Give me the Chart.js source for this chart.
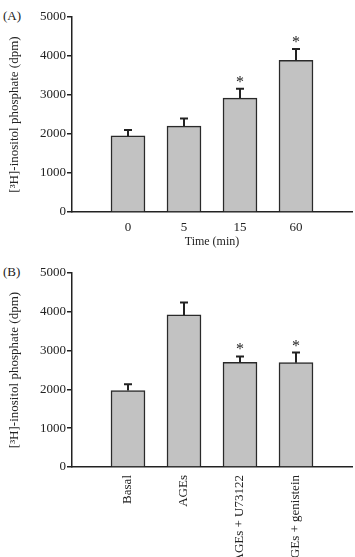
<!DOCTYPE html>
<html>
<head>
<meta charset="utf-8">
<script src="https://cdn.jsdelivr.net/npm/chart.js@4.4.0/dist/chart.umd.min.js"></script>
<style>
  html, body { margin: 0; padding: 0; background: #fff; overflow: hidden; }
  body { width: 355px; height: 557px; position: relative; }
  canvas { position: absolute; left: 0; }
  .panel { position: absolute; left: 3px; font: 13px "Liberation Serif", serif; color: #222; line-height: 16px; }
</style>
</head>
<body>
<div class="panel" style="top:8px">(A)</div>
<div class="panel" style="top:264px">(B)</div>
<canvas id="timeChart" width="355" height="250" style="top:0"></canvas>
<canvas id="treatChart" width="355" height="307" style="top:250px"></canvas>
<script>
// Panel A: time course
const timeLabels = ['0', '5', '15', '60'];
const timeMeans = [1950, 2200, 2920, 3890];
const timeErr = [150, 200, 240, 290];
const timeSig = [false, false, true, true];

// Panel B: inhibitors
const treatLabels = ['Basal', 'AGEs', 'AGEs + U73122', 'AGEs + genistein'];
const treatMeans = [1970, 3920, 2700, 2690];
const treatErr = [160, 320, 150, 260];
const treatSig = [false, false, true, true];

const yTicks = [0, 1000, 2000, 3000, 4000, 5000];

const ink = '#222';
const serif = '"Liberation Serif", "Times New Roman", serif';

// error bars (upper only) and asterisks
const errorPlugin = {
  id: 'errorBars',
  afterDatasetsDraw(chart, args, opts) {
    const { ctx, scales: { x, y } } = chart;
    ctx.save();
    ctx.strokeStyle = ink;
    ctx.fillStyle = ink;
    ctx.lineWidth = 2;
    opts.means.forEach((m, i) => {
      const px = x.getPixelForValue(i + 1);
      const top = y.getPixelForValue(m);
      const cap = y.getPixelForValue(m + opts.errors[i]);
      ctx.beginPath();
      ctx.moveTo(px, top);
      ctx.lineTo(px, cap);
      ctx.moveTo(px - 4, cap);
      ctx.lineTo(px + 4, cap);
      ctx.stroke();
      if (opts.sig[i]) {
        ctx.font = '16px ' + serif;
        ctx.textAlign = 'center';
        ctx.textBaseline = 'alphabetic';
        ctx.fillText('*', px, cap - 2);
      }
    });
    ctx.restore();
  }
};

function makeChart(id, labels, means, errors, sig, opt) {
  const padded = ['', ...labels, ''];
  const values = [null, ...means, null];
  return new Chart(document.getElementById(id), {
    type: 'bar',
    data: {
      labels: padded,
      datasets: [{
        data: values,
        backgroundColor: '#c2c2c2',
        borderColor: '#2a2a2a',
        borderWidth: 1.5,
        barThickness: 34
      }]
    },
    options: {
      responsive: false,
      animation: false,
      layout: { padding: { top: opt.padTop, right: 3, bottom: 0, left: 0 } },
      plugins: {
        legend: { display: false },
        tooltip: { enabled: false },
        errorBars: { means: means, errors: errors, sig: sig }
      },
      scales: {
        x: {
          offset: false,
          grid: { display: false, drawTicks: false },
          border: { display: true, color: ink, width: 1.5 },
          ticks: {
            color: ink,
            font: { family: serif, size: 13 },
            padding: opt.xPad,
            autoSkip: false,
            minRotation: opt.rot,
            maxRotation: opt.rot
          },
          title: {
            display: !!opt.xTitle,
            text: opt.xTitle || '',
            color: ink,
            font: { family: serif, size: 12 },
            padding: { top: 0, bottom: 1 }
          },
          afterFit: s => {
            s.height = opt.xHeight;
            s.paddingLeft = 0;
            s.paddingRight = 0;
          }
        },
        y: {
          min: 0,
          max: 5000,
          afterBuildTicks: s => { s.ticks = yTicks.map(v => ({ value: v })); },
          grid: { drawOnChartArea: false, drawTicks: true, tickLength: 5, color: ink, lineWidth: 1.5 },
          border: { display: true, color: ink, width: 1.5 },
          ticks: {
            color: ink,
            font: { family: serif, size: 13 },
            padding: 1,
            callback: v => String(v)
          },
          title: {
            display: true,
            text: '[³H]-inositol phosphate (dpm)',
            color: ink,
            font: { family: serif, size: 13 },
            padding: { top: 7, bottom: 0 }
          },
          afterFit: s => { s.width = 72; }
        }
      }
    },
    plugins: [errorPlugin]
  });
}

makeChart('timeChart', timeLabels, timeMeans, timeErr, timeSig,
  { padTop: 17, xHeight: 38, xPad: 8, rot: 0, xTitle: 'Time (min)' });
makeChart('treatChart', treatLabels, treatMeans, treatErr, treatSig,
  { padTop: 23, xHeight: 90, xPad: 8, rot: 90, xTitle: '' });
</script>
</body>
</html>
